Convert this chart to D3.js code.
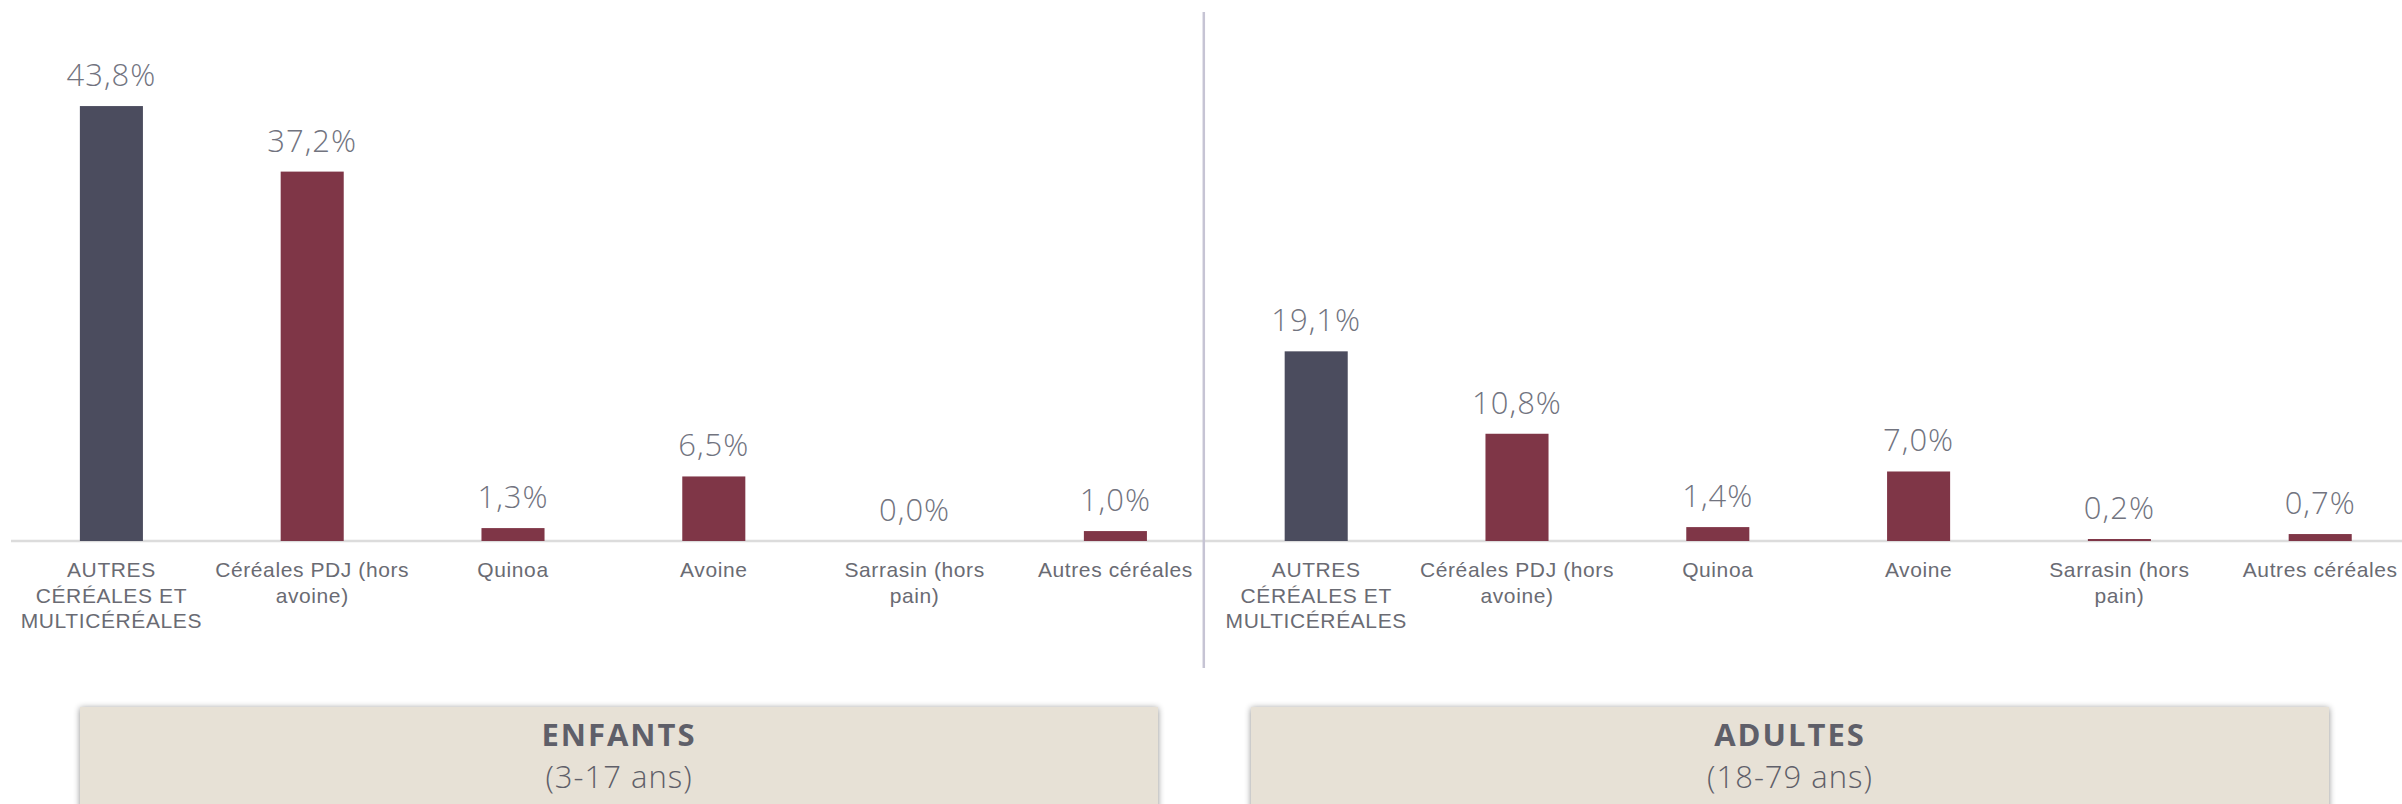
<!DOCTYPE html>
<html lang="fr">
<head>
<meta charset="utf-8">
<script src="https://cdn.jsdelivr.net/npm/d3@7"></script>
<style>
  html, body { margin: 0; padding: 0; background: #ffffff; }
  svg { display: block; font-family: "Open Sans", "Noto Sans", sans-serif; }
</style>
</head>
<body>
<svg id="chart" width="2402" height="804"></svg>
<script>
// Categories (line breaks mark where each label wraps)
const categories = [
  "AUTRES\nCÉRÉALES ET\nMULTICÉRÉALES",
  "Céréales PDJ (hors\navoine)",
  "Quinoa",
  "Avoine",
  "Sarrasin (hors\npain)",
  "Autres céréales"
];

// Share of consumers (%) per population group
const enfants = [43.8, 37.2, 1.3, 6.5, 0.0, 1.0];
const adultes = [19.1, 10.8, 1.4, 7.0, 0.2, 0.7];

const groupNames = ["ENFANTS", "ADULTES"];
const ageRanges = ["(3-17 ans)", "(18-79 ans)"];
const groupValues = [enfants, adultes];

// Flat rows: one per bar
const rows = [];
groupValues.forEach((vals, g) => {
  vals.forEach((v, i) => rows.push({ key: g + "-" + i, group: g, idx: i, label: categories[i], value: v }));
});

const W = 2402, H = 804;
const baseY = 541;
const pxPerPct = 9.93;
const left = 11, step = 200.8;

const svg = d3.select("#chart");

const x = d3.scaleBand()
  .domain(rows.map(d => d.key))
  .range([left, left + step * rows.length])
  .paddingInner(0.686)
  .paddingOuter(0.343);

const y = d3.scaleLinear()
  .domain([0, 50])
  .range([baseY, baseY - 50 * pxPerPct]);

const fmt = v => v.toFixed(1).replace(".", ",") + "%";

// Drop shadow for the group caption boxes
const defs = svg.append("defs");
const f = defs.append("filter").attr("id", "boxShadow")
  .attr("x", "-5%").attr("y", "-20%").attr("width", "110%").attr("height", "140%");
f.append("feDropShadow").attr("dx", 0).attr("dy", 1).attr("stdDeviation", 3)
  .attr("flood-color", "#000").attr("flood-opacity", 0.45);

// Baseline axis
const axis = d3.axisBottom(x).tickSize(0).tickFormat("");
const axisG = svg.append("g").attr("transform", `translate(0,${baseY})`).call(axis);
axisG.select(".domain").attr("stroke", "#dcdcdc").attr("stroke-width", 2.5)
  .attr("d", `M${left},0H${W}`);

// Category labels under each bar
axisG.selectAll(".tick").each(function(k) {
  const row = rows.find(r => r.key === k);
  const t = d3.select(this).select("text")
    .attr("y", 0).attr("dy", null)
    .attr("fill", "#6a6b73")
    .attr("font-size", 21)
    .attr("font-weight", 300)
    .attr("letter-spacing", 0.6)
    .attr("text-anchor", "middle");
  t.text(null);
  row.label.split("\n").forEach((line, li) => {
    t.append("tspan").attr("x", 0).attr("y", 36 + li * 25.5).text(line);
  });
});

// Separator between the two groups
const sepX = x(rows[6].key) - (x.step() - x.bandwidth()) / 2 - 12;
svg.append("line")
  .attr("x1", sepX).attr("x2", sepX)
  .attr("y1", 12).attr("y2", 668)
  .attr("stroke", "#c6c4d4").attr("stroke-width", 2.5);

// Bars
svg.append("g").selectAll("rect")
  .data(rows)
  .join("rect")
  .attr("x", d => x(d.key))
  .attr("width", x.bandwidth())
  .attr("y", d => y(d.value))
  .attr("height", d => baseY - y(d.value))
  .attr("fill", d => d.idx === 0 ? "#4b4c5e" : "#7f3647");

// Value labels
svg.append("g").selectAll("text")
  .data(rows)
  .join("text")
  .attr("x", d => x(d.key) + x.bandwidth() / 2)
  .attr("y", d => y(d.value) - 20)
  .attr("text-anchor", "middle")
  .attr("font-size", 31)
  .attr("font-weight", 300)
  .attr("letter-spacing", 1)
  .attr("fill", "#72747f")
  .text(d => fmt(d.value));

// Group caption boxes
const boxLeft = [80, 1251], boxWidth = 1078, boxTop = 707;
const caps = svg.append("g").selectAll("g")
  .data(groupNames.map((n, i) => ({ name: n, range: ageRanges[i], x0: boxLeft[i] })))
  .join("g");
caps.append("rect")
  .attr("x", d => d.x0).attr("y", boxTop)
  .attr("width", boxWidth).attr("height", 120)
  .attr("fill", "#e7e1d6")
  .attr("filter", "url(#boxShadow)");
caps.append("text")
  .attr("x", d => d.x0 + boxWidth / 2).attr("y", boxTop + 39)
  .attr("text-anchor", "middle")
  .attr("font-size", 31).attr("font-weight", 700)
  .attr("letter-spacing", 2)
  .attr("fill", "#5f5f69")
  .text(d => d.name);
caps.append("text")
  .attr("x", d => d.x0 + boxWidth / 2).attr("y", boxTop + 81)
  .attr("text-anchor", "middle")
  .attr("font-size", 31).attr("font-weight", 300)
  .attr("letter-spacing", 1)
  .attr("fill", "#5f5f69")
  .text(d => d.range);
</script>
</body>
</html>
